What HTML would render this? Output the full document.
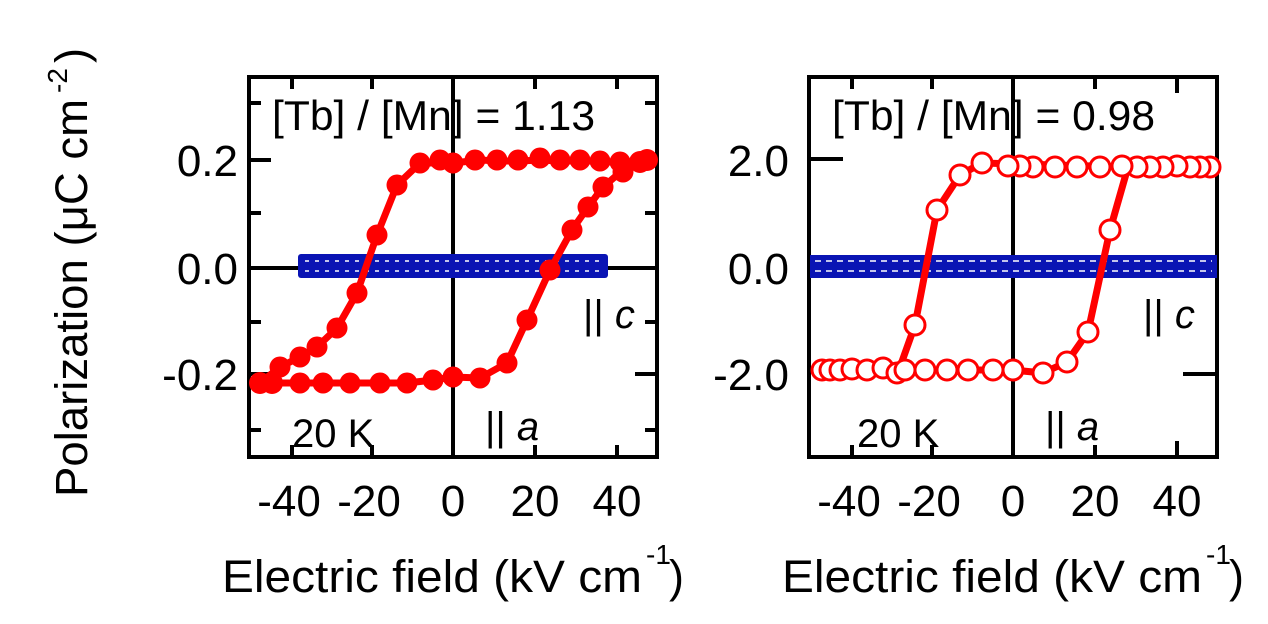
<!DOCTYPE html>
<html><head><meta charset="utf-8"><style>
html,body{margin:0;padding:0;background:#fff;}
svg{display:block;font-family:"Liberation Sans",Arial,sans-serif;}
</style></head><body>
<svg width="1268" height="624" viewBox="0 0 1268 624" xmlns="http://www.w3.org/2000/svg">
<rect width="1268" height="624" fill="#fff"/>
<!-- Y title -->
<g transform="translate(87,497) rotate(-90)">
<text x="0" y="0" font-size="45" textLength="398" lengthAdjust="spacingAndGlyphs">Polarization (μC cm</text>
<text x="404" y="-20" font-size="28">-2</text>
<text x="434" y="0" font-size="45">)</text>
</g>
<!-- LEFT PANEL -->
<g stroke="#000" stroke-width="4" fill="none">
<rect x="249" y="77" width="408" height="380"/>
<line x1="453" y1="77" x2="453" y2="457"/>
<line x1="249" y1="268" x2="657" y2="268"/>
<path d="M249 160h22M249 374h22M249 103h12M249 213h12M249 322h12M249 430h12"/>
<path d="M657 160h-22M657 374h-22M657 103h-12M657 213h-12M657 322h-12M657 430h-12"/>
<path d="M292 77v12M372 77v12M535 77v12M617 77v12M292 457v-12M372 457v-12M535 457v-12M617 457v-12"/>
</g>
<g font-size="44" text-anchor="end">
<text x="238" y="176">0.2</text><text x="238" y="284">0.0</text><text x="238" y="390">-0.2</text>
</g>
<g font-size="44" text-anchor="middle">
<text x="289" y="516">-40</text><text x="369" y="516">-20</text><text x="453" y="516">0</text><text x="535" y="516">20</text><text x="617" y="516">40</text>
</g>
<text x="222" y="592" font-size="45" textLength="420" lengthAdjust="spacingAndGlyphs">Electric field (kV cm</text>
<text x="646" y="564" font-size="28">-1</text>
<text x="669" y="592" font-size="45">)</text>
<!-- blue band left -->
<rect x="298" y="254" width="310" height="24" fill="#0a14b4" rx="3"/>
<path d="M305 261H600M305 271H600" stroke="#fff" stroke-width="1.5" stroke-dasharray="4 6" fill="none"/>
<!-- red loop left -->
<polyline fill="none" stroke="#f00" stroke-width="7" stroke-linejoin="round" points="260,383 300,383 320,383 350,383 380,383 407,383 433,380 453,377 480,378 507,363 527,320 550,270 572,230 588,207 603,187 623,170 647,160 620,163 600,161 580,161 560,161 540,160 520,161 500,161 480,160 453,163 420,163 397,185 377,235 357,293 337,328 317,347 300,357 280,367 260,383"/>
<g fill="#f00">
<circle cx="260" cy="383" r="11"/><circle cx="272" cy="383" r="11"/><circle cx="300" cy="383" r="10.5"/><circle cx="323" cy="383" r="10.5"/><circle cx="350" cy="383" r="10.5"/><circle cx="380" cy="383" r="10.5"/><circle cx="407" cy="383" r="10.5"/><circle cx="433" cy="380" r="10.5"/><circle cx="453" cy="377" r="10.5"/><circle cx="480" cy="378" r="10.5"/><circle cx="507" cy="363" r="10.5"/><circle cx="527" cy="320" r="10.5"/><circle cx="550" cy="270" r="10.5"/><circle cx="572" cy="230" r="10.5"/><circle cx="588" cy="207" r="10.5"/><circle cx="603" cy="187" r="10.5"/><circle cx="623" cy="172" r="10.5"/><circle cx="640" cy="162" r="11"/><circle cx="647" cy="160" r="11"/>
<circle cx="620" cy="162" r="10.5"/><circle cx="600" cy="161" r="10.5"/><circle cx="580" cy="160" r="10.5"/><circle cx="560" cy="160" r="10.5"/><circle cx="540" cy="158" r="10.5"/><circle cx="518" cy="160" r="10.5"/><circle cx="497" cy="160" r="10.5"/><circle cx="475" cy="160" r="10.5"/><circle cx="453" cy="163" r="10.5"/><circle cx="440" cy="160" r="10.5"/><circle cx="420" cy="163" r="10.5"/><circle cx="397" cy="185" r="10.5"/><circle cx="377" cy="235" r="10.5"/><circle cx="357" cy="293" r="10.5"/><circle cx="337" cy="328" r="10.5"/><circle cx="317" cy="347" r="10.5"/><circle cx="300" cy="357" r="10.5"/><circle cx="280" cy="367" r="10.5"/>
</g>
<text x="272" y="130" font-size="42" textLength="323" lengthAdjust="spacingAndGlyphs">[Tb] / [Mn] = 1.13</text>
<text x="292" y="447" font-size="40">20 K</text>
<text x="485" y="440" font-size="40">|| <tspan font-style="italic">a</tspan></text>
<text x="583" y="328" font-size="40">|| <tspan font-style="italic">c</tspan></text>

<!-- RIGHT PANEL -->
<g stroke="#000" stroke-width="4" fill="none">
<rect x="809" y="77" width="408" height="380"/>
<line x1="1013" y1="77" x2="1013" y2="457"/>
<line x1="809" y1="268" x2="1217" y2="268"/>
<path d="M809 159h34M1217 374h-34"/>
<path d="M852 77v12M932 77v12M1095 77v12M1177 77v16M852 457v-12M932 457v-12M1095 457v-12M1177 457v-16"/>
</g>
<g font-size="44" text-anchor="end">
<text x="789" y="176">2.0</text><text x="789" y="284">0.0</text><text x="789" y="390">-2.0</text>
</g>
<g font-size="44" text-anchor="middle">
<text x="849" y="516">-40</text><text x="929" y="516">-20</text><text x="1013" y="516">0</text><text x="1095" y="516">20</text><text x="1177" y="516">40</text>
</g>
<text x="782" y="592" font-size="45" textLength="420" lengthAdjust="spacingAndGlyphs">Electric field (kV cm</text>
<text x="1206" y="564" font-size="28">-1</text>
<text x="1229" y="592" font-size="45">)</text>
<rect x="810" y="255" width="407" height="23" fill="#0a14b4"/>
<path d="M815 261H1212M815 271H1212" stroke="#fff" stroke-width="1.5" stroke-dasharray="6 5" fill="none"/>
<polyline fill="none" stroke="#f00" stroke-width="7" stroke-linejoin="round" points="820,370 897,373 905,370 1013,370 1043,373 1067,362 1088,332 1110,230 1128,167 1210,167 1128,167 982,163 960,175 937,210 915,325 900,367 820,370"/>
<g fill="#fff" stroke="#f00" stroke-width="3">
<circle cx="822" cy="370" r="10"/><circle cx="830" cy="370" r="10"/><circle cx="840" cy="370" r="10"/><circle cx="852" cy="369" r="10"/><circle cx="867" cy="370" r="10"/><circle cx="883" cy="368" r="10"/><circle cx="897" cy="373" r="10"/><circle cx="905" cy="370" r="10"/><circle cx="925" cy="370" r="10"/><circle cx="947" cy="370" r="10"/><circle cx="968" cy="370" r="10"/><circle cx="993" cy="370" r="10"/><circle cx="1013" cy="370" r="10"/><circle cx="1043" cy="373" r="10"/><circle cx="1067" cy="362" r="10"/><circle cx="1088" cy="332" r="10"/><circle cx="1110" cy="230" r="10"/>
<circle cx="1210" cy="167" r="10"/><circle cx="1200" cy="167" r="10"/><circle cx="1190" cy="167" r="10"/><circle cx="1177" cy="166" r="10"/><circle cx="1163" cy="167" r="10"/><circle cx="1150" cy="167" r="10"/><circle cx="1137" cy="167" r="10"/><circle cx="1122" cy="166" r="10"/><circle cx="1100" cy="167" r="10"/><circle cx="1077" cy="167" r="10"/><circle cx="1055" cy="167" r="10"/><circle cx="1033" cy="167" r="10"/><circle cx="1020" cy="166" r="10"/><circle cx="1008" cy="166" r="10"/><circle cx="982" cy="163" r="10"/><circle cx="960" cy="175" r="10"/><circle cx="937" cy="210" r="10"/><circle cx="915" cy="325" r="10"/>
</g>
<text x="832" y="130" font-size="42" textLength="323" lengthAdjust="spacingAndGlyphs">[Tb] / [Mn] = 0.98</text>
<text x="857" y="447" font-size="40">20 K</text>
<text x="1045" y="440" font-size="40">|| <tspan font-style="italic">a</tspan></text>
<text x="1143" y="328" font-size="40">|| <tspan font-style="italic">c</tspan></text>
</svg>
</body></html>
